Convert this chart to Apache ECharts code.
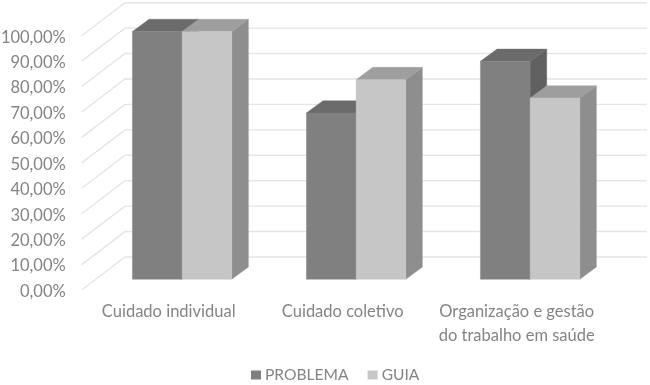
<!DOCTYPE html>
<html>
<head>
<meta charset="utf-8">
<style>html,body{margin:0;padding:0;background:#fff}#c{width:650px;height:385px}</style>
<script src="https://cdn.jsdelivr.net/npm/echarts@6/dist/echarts.min.js"></script>
</head>
<body>
<div id="c"></div>
<script>
const categories = ['Cuidado individual', 'Cuidado coletivo', 'Organização e gestão\ndo trabalho em saúde'];
const problema = [97.4, 65.4, 85.7];
const guia = [97.4, 78.5, 71.3];
const yTicks = [0, 10, 20, 30, 40, 50, 60, 70, 80, 90, 100];

const font = 'Lato';
const textColor = '#848484';
const wallDx = 43.3, wallDy = 33;        // depth of the chart floor
const barDx = 16.6, barDy = 12.3;        // depth of one bar
const planeDx = 13.4, planeDy = 10.7;    // front of bars relative to the front of the floor
const barShare = 0.2855;

function wallItem(params, api) {
  const band = api.size([1, 0])[0];
  const c0 = api.coord([0, api.value(1)]);
  const c2 = api.coord([categories.length - 1, api.value(1)]);
  const x0 = c0[0] - band / 2, x1 = c2[0] + band / 2, y = c0[1];
  return {
    type: 'polyline',
    shape: { points: [[x0, y], [x0 + wallDx, y - wallDy], [x1 + wallDx, y - wallDy]] },
    style: { stroke: '#e5e5e5', lineWidth: 1.4, fill: null }
  };
}

function barRender(side, front, top, right) {
  return function (params, api) {
    const band = api.size([1, 0])[0];
    const w = band * barShare;
    const top0 = api.coord([api.value(0), api.value(1)]);
    const base = api.coord([api.value(0), 0]);
    const cx = top0[0] + planeDx;
    const x0 = side === 0 ? cx - w : cx;
    const x1 = x0 + w;
    const yT = top0[1] - planeDy;
    const yB = base[1] - planeDy;
    const poly = (pts, fill) => ({ type: 'polygon', shape: { points: pts }, style: { fill: fill, stroke: fill, lineWidth: 0.4 } });
    return {
      type: 'group',
      children: [
        poly([[x1, yT], [x1 + barDx, yT - barDy], [x1 + barDx, yB - barDy], [x1, yB]], right),
        poly([[x0, yT], [x0 + barDx, yT - barDy], [x1 + barDx, yT - barDy], [x1, yT]], top),
        poly([[x0, yT], [x1, yT], [x1, yB], [x0, yB]], front)
      ]
    };
  };
}

const chart = echarts.init(document.getElementById('c'), null, { renderer: 'canvas' });
chart.setOption({
  animation: false,
  backgroundColor: '#fff',
  grid: { left: 81.7, top: 35.7, width: 522, height: 254.3, outerBoundsMode: 'none' },
  legend: {
    data: ['PROBLEMA', 'GUIA'],
    left: 246, top: 362,
    icon: 'rect', itemWidth: 10, itemHeight: 9, itemGap: 19,
    textStyle: { fontFamily: font, fontSize: 15.6, color: textColor, padding: [0, 0, 0, -1] }
  },
  xAxis: {
    type: 'category',
    data: categories,
    axisLine: { show: false }, axisTick: { show: false }, splitLine: { show: false },
    axisLabel: { interval: 0, margin: 10, fontFamily: font, fontSize: 16.5, color: textColor, lineHeight: 24 }
  },
  yAxis: {
    type: 'value', min: 0, max: 100, interval: 10,
    axisLine: { show: false }, axisTick: { show: false }, splitLine: { show: false },
    axisLabel: {
      margin: 16, fontFamily: font, fontSize: 16.5, color: textColor,
      verticalAlign: 'top', lineHeight: 3,
      formatter: v => v.toFixed(2).replace('.', ',') + '%'
    }
  },
  series: [
    { type: 'custom', name: 'walls', silent: true, z: 1, clip: false,
      data: yTicks.map(t => [0, t]), encode: { x: 0, y: 1 }, renderItem: wallItem },
    { type: 'custom', name: 'PROBLEMA', z: 2, clip: false, itemStyle: { color: '#808080' },
      data: problema.map((v, i) => [i, v]), encode: { x: 0, y: 1 },
      renderItem: barRender(0, '#808080', '#6b6b6b', '#606060') },
    { type: 'custom', name: 'GUIA', z: 3, clip: false, itemStyle: { color: '#c6c6c6' },
      data: guia.map((v, i) => [i, v]), encode: { x: 0, y: 1 },
      renderItem: barRender(1, '#c6c6c6', '#9e9e9e', '#8e8e8e') }
  ]
});
</script>
</body>
</html>
